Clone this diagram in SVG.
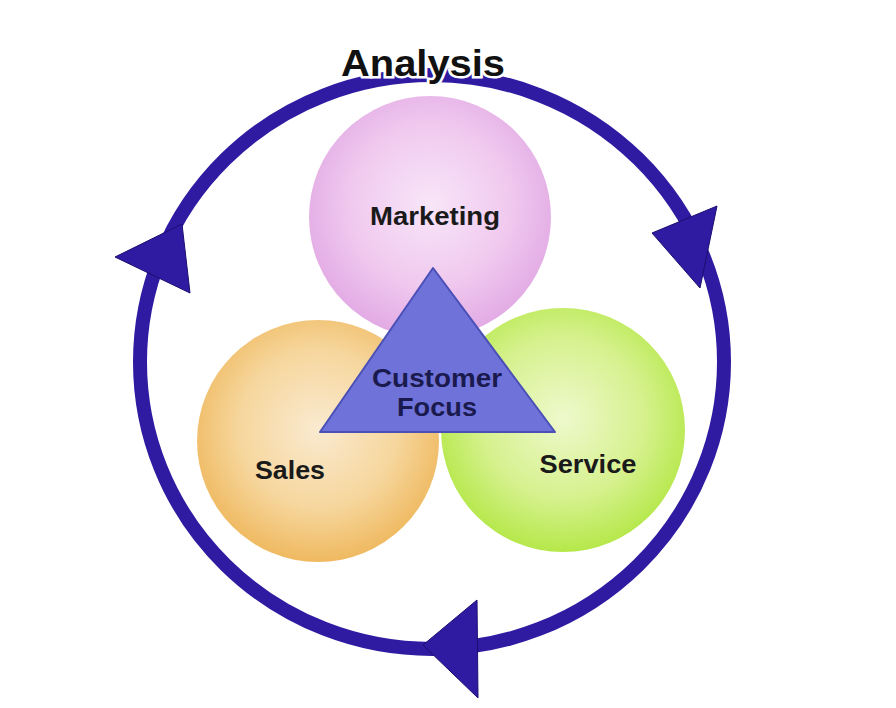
<svg xmlns="http://www.w3.org/2000/svg" width="896" height="708" viewBox="0 0 896 708">
<defs>
<radialGradient id="gPink" cx="0.5" cy="0.45" r="0.55">
<stop offset="0" stop-color="#f8e6f8"/><stop offset="0.6" stop-color="#f0c9ef"/><stop offset="1" stop-color="#e2aae4"/>
</radialGradient>
<radialGradient id="gOrange" cx="0.5" cy="0.45" r="0.55">
<stop offset="0" stop-color="#faead0"/><stop offset="0.6" stop-color="#f6d69c"/><stop offset="1" stop-color="#efb960"/>
</radialGradient>
<radialGradient id="gGreen" cx="0.5" cy="0.45" r="0.55">
<stop offset="0" stop-color="#eef9cc"/><stop offset="0.6" stop-color="#d6f18e"/><stop offset="1" stop-color="#b5e84a"/>
</radialGradient>
</defs>
<style>
.lbl{font-family:"Liberation Sans",Arial,sans-serif;font-weight:bold;text-anchor:middle}
.ring{fill:none;stroke:#2f1ba2;stroke-width:14}
.head{fill:#2f1ba2;stroke:#1a0e70;stroke-width:1}
</style>
<rect width="896" height="708" fill="#ffffff"/>
<g id="connectors">
<ellipse class="ring" cx="432" cy="362" rx="292" ry="287"/>
<polygon class="head" points="115,257 182,224 190,293"/>
<polygon class="head" points="652,233 717,206 700,288"/>
<polygon class="head" points="423,645 477,600 478,698"/>
</g>
<g id="marketing">
<circle cx="430" cy="217" r="121" fill="url(#gPink)"/>
<text class="lbl" x="435" y="225" font-size="26" fill="#1a1a1a" textLength="130" lengthAdjust="spacingAndGlyphs">Marketing</text>
</g>
<g id="sales">
<circle cx="318" cy="441" r="121" fill="url(#gOrange)"/>
<text class="lbl" x="290" y="479" font-size="26" fill="#1a1a1a" textLength="70" lengthAdjust="spacingAndGlyphs">Sales</text>
</g>
<g id="service">
<circle cx="563" cy="430" r="122" fill="url(#gGreen)"/>
<text class="lbl" x="588" y="473" font-size="26" fill="#1a1a1a" textLength="97" lengthAdjust="spacingAndGlyphs">Service</text>
</g>
<g id="customer-focus">
<polygon points="433,268 320,432 555,432" fill="#6e72d9" stroke="#4b50b6" stroke-width="2" stroke-linejoin="round"/>
<text class="lbl" x="437" y="387" font-size="26" fill="#1a1a4e" textLength="130" lengthAdjust="spacingAndGlyphs">Customer</text>
<text class="lbl" x="437" y="416" font-size="26" fill="#1a1a4e" textLength="80" lengthAdjust="spacingAndGlyphs">Focus</text>
</g>
<g id="analysis">
<text class="lbl" x="423" y="76" font-size="36" fill="#111111" stroke="#ffffff" stroke-width="5" paint-order="stroke" textLength="164" lengthAdjust="spacingAndGlyphs">Analysis</text>
</g>
</svg>
